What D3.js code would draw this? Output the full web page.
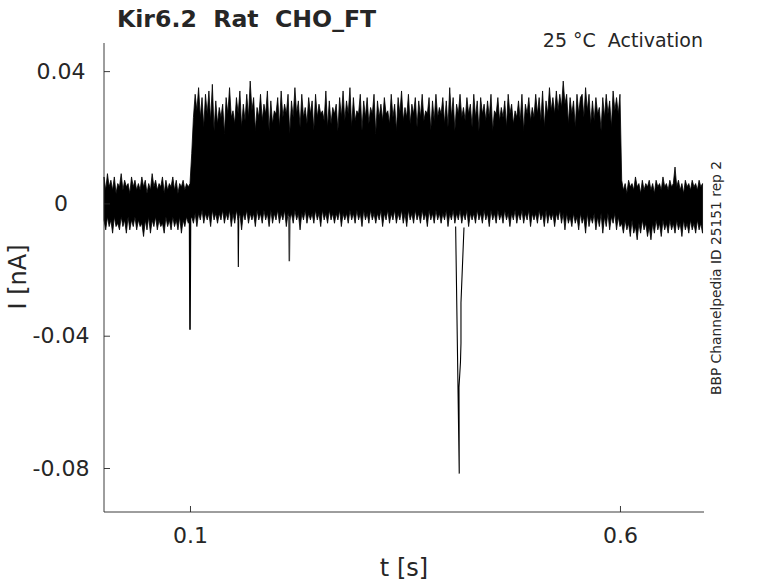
<!DOCTYPE html>
<html><head><meta charset="utf-8">
<script src="https://cdn.jsdelivr.net/npm/d3@7"></script>
<style>
body{margin:0;background:#fff;}
svg text{font-family:"DejaVu Sans",sans-serif;fill:#262626;}
</style></head>
<body><svg id="c" width="778" height="583"></svg>
<script>
// sample grid step (s) of the envelope
const dt = 0.002;
// upper envelope of all sweeps (pA), one value per 2 ms from t = 0
const upperPA = [
  // 0 - 0.098 s (holding)
  8,4,9,5,7,4,8,3,6,5, 9,4,7,5,6,3,8,5,7,4, 6,4,8,5,7,3,6,4,9,5,
  7,4,6,5,8,3,7,4,6,5, 8,4,7,3,6,5,7,4,6,5,
  // 0.1 s
  6,
  // 0.102 - 0.6 s (test pulse)
  15,26,33,28,35,26,32,23,33,27, 34,25,36,22,31,24,29,26,30,21,
  32,27,35,26,28,24,32,27,34,23, 30,25,33,26,37,28,32,22,29,26,
  33,25,30,27,34,22,31,24,28,27, 32,23,34,26,30,27,33,21,31,26,
  35,27,31,23,33,26,29,24,32,27, 31,22,33,26,30,27,28,25,34,23,
  31,24,29,27,30,22,32,26,34,25, 31,27,35,23,32,25,28,27,33,22,
  31,26,32,24,29,27,33,21,31,26, 30,25,32,27,28,24,33,26,30,22,
  32,27,34,25,29,26,33,24,30,27, 32,23,31,26,33,25,28,27,32,22,
  31,25,33,26,29,27,32,24,31,23, 35,26,32,22,30,27,33,26,29,25,
  32,27,30,23,33,26,31,22,32,27, 30,25,31,26,33,22,28,27,32,25,
  29,26,31,23,33,27,30,24,28,26, 31,25,33,22,30,27,32,25,29,26,
  33,27,32,25,34,23,31,27,35,28, 32,27,34,28,33,29,37,30,33,24,
  32,27,31,23,33,27,32,33,26,35, 28,33,24,31,25,32,27,29,22,32,
  26,33,27,31,23,34,28,32,27,33,
  // 0.602 - 0.696 s (after pulse)
  7,4,6,3,7,5,6,4,8,5, 6,3,7,4,6,5,7,4,6,3, 7,5,6,4,8,5,6,4,7,5,
  6,11,5,7,4,6,3,7,5,6, 4,7,5,6,4,7,5,6
];
// lower envelope of all sweeps (pA)
const lowerPA = [
  -5,-8,-4,-7,-5,-9,-4,-7,-6,-8, -4,-7,-5,-9,-4,-8,-5,-7,-4,-8, -5,-7,-6,-10,-5,-8,-4,-9,-5,-7,
  -4,-8,-5,-7,-6,-9,-4,-7,-5,-8, -4,-7,-5,-8,-4,-9,-5,-7,-4,-6,
  -5,
  -4,-6,-3,-7,-3,-5,-2,-6,-3,-5, -3,-7,-2,-5,-3,-6,-3,-5,-2,-6,
  -3,-5,-2,-7,-3,-6,-2,-5,-3,-8, -3,-5,-2,-6,-3,-5,-3,-7,-2,-5,
  -3,-6,-2,-5,-3,-7,-2,-6,-3,-5, -2,-6,-3,-5,-2,-7,-3,-5,-3,-6,
  -2,-5,-3,-8,-3,-5,-2,-6,-3,-5, -3,-6,-2,-5,-3,-7,-2,-5,-3,-6,
  -2,-5,-3,-6,-3,-5,-2,-7,-3,-5, -3,-6,-2,-5,-3,-6,-2,-5,-3,-7,
  -2,-5,-3,-6,-2,-5,-3,-6,-3,-5, -2,-7,-3,-5,-2,-6,-3,-5,-2,-6,
  -3,-5,-2,-6,-3,-7,-2,-5,-3,-6, -2,-5,-3,-6,-2,-5,-3,-7,-2,-5,
  -3,-6,-2,-5,-3,-6,-3,-5,-2,-7, -3,-5,-2,-6,-3,-5,-2,-6,-3,-5,
  -2,-7,-3,-5,-3,-6,-2,-5,-3,-6, -2,-5,-3,-7,-2,-5,-3,-6,-2,-5,
  -3,-6,-2,-5,-3,-7,-3,-5,-2,-6, -3,-5,-2,-6,-3,-5,-2,-7,-3,-5,
  -3,-6,-2,-5,-3,-7,-2,-6,-3,-5, -3,-7,-3,-5,-2,-6,-3,-8,-3,-6,
  -4,-7,-3,-6,-4,-8,-3,-6,-4,-9, -3,-7,-4,-6,-3,-8,-4,-7,-3,-9,
  -4,-7,-3,-8,-4,-6,-3,-8,-4,-7,
  -6,-9,-5,-8,-6,-10,-5,-9,-7,-11, -6,-9,-5,-8,-6,-10,-7,-11,-6,-9,
  -5,-8,-6,-10,-5,-8,-6,-9,-5,-8, -6,-9,-5,-8,-6,-10,-5,-8,-6,-9,
  -5,-8,-6,-9,-5,-8,-6,-9
];
// individual downward transients: [t (s), I (pA)]
const spikeOnset = [[0.0995, -4], [0.1000, -38.2], [0.1006, -4]];
const spikeB = [[0.1558, -4], [0.1562, -19.2], [0.1567, -4]];
const spikeC = [[0.2150, -4], [0.2155, -17.5], [0.2161, -4]];
const spikeD = [[0.4089, -7], [0.4131, -81.7], [0.4128, -55.6], [0.4145, -48],
                [0.4151, -42.3], [0.4151, -30], [0.4186, -7.3]];
const spikes = [spikeOnset, spikeB, spikeC, spikeD];

const xTicks = [0.1, 0.6];
const yTicks = [0.04, 0, -0.04, -0.08];
const xDomain = [0, 0.6977];
const yDomain = [-0.0933, 0.0485];

const titleText = "Kir6.2\u00a0\u00a0Rat\u00a0\u00a0CHO_FT";
const condText = "25 \u00b0C\u00a0\u00a0Activation";
const sideText = "BBP Channelpedia ID 25151 rep 2";

const svg = d3.select("#c");
const L = 104, R = 704, T = 43, B = 512;
const x = d3.scaleLinear().domain(xDomain).range([L, R]);
const y = d3.scaleLinear().domain(yDomain).range([B, T]);

const env = upperPA.map((u, i) => ({t: i * dt, hi: u / 1000, lo: lowerPA[i] / 1000}));

const area = d3.area().x(d => x(d.t)).y0(d => y(d.lo)).y1(d => y(d.hi));
svg.append("path").datum(env).attr("d", area)
  .attr("fill", "#000").attr("stroke", "#000").attr("stroke-width", 0.8)
  .attr("stroke-linejoin", "round");

const line = d3.line().x(d => x(d[0])).y(d => y(d[1] / 1000));
svg.selectAll("path.spike").data(spikes).join("path").attr("class", "spike")
  .attr("d", line).attr("fill", "none")
  .attr("stroke", (d, i) => i === 2 ? "#3a3a3a" : "#000")
  .attr("stroke-width", (d, i) => i === 0 ? 1.6 : (i === 2 ? 1.5 : 1.1));

// axes (MATLAB style: box off, ticks inward)
const axCol = "#262626";
const yAxis = d3.axisLeft(y).tickValues(yTicks).tickSize(-6).tickPadding(0)
  .tickFormat(d => String(+d.toFixed(2)));
const gy = svg.append("g").attr("transform", `translate(${L},0)`).call(yAxis);
gy.select(".domain").attr("d", `M0,${T}V${B}`).attr("stroke", axCol).attr("stroke-width", 0.9);
gy.selectAll(".tick line").attr("stroke", axCol).attr("stroke-width", 0.9);
gy.selectAll(".tick text").attr("x", -43).attr("text-anchor", "middle")
  .attr("font-size", 22).attr("fill", axCol).attr("font-family", "DejaVu Sans");

const xAxis = d3.axisBottom(x).tickValues(xTicks).tickSize(-6).tickPadding(0).tickFormat(d3.format(".1f"));
const gx = svg.append("g").attr("transform", `translate(0,${B})`).call(xAxis);
gx.select(".domain").attr("d", `M${L},0H${R}`).attr("stroke", axCol).attr("stroke-width", 0.9);
gx.selectAll(".tick line").attr("stroke", axCol).attr("stroke-width", 0.9);
gx.selectAll(".tick text").attr("y", 31).attr("dy", 0)
  .attr("font-size", 22).attr("fill", axCol).attr("font-family", "DejaVu Sans");

svg.append("text").attr("x", 404).attr("y", 576).attr("text-anchor", "middle")
  .attr("font-size", 24).text("t [s]");
svg.append("text").attr("transform", "translate(26,277) rotate(-90)").attr("text-anchor", "middle")
  .attr("font-size", 24).text("I [nA]");
svg.append("text").attr("x", 117).attr("y", 27).attr("font-size", 23.6).attr("font-weight", "bold")
  .attr("fill", "#000").text(titleText);
svg.append("text").attr("x", 703).attr("y", 47).attr("text-anchor", "end")
  .attr("font-size", 19).attr("fill", "#000").text(condText);
svg.append("text").attr("transform", "translate(721,278) rotate(-90)").attr("text-anchor", "middle")
  .attr("font-size", 13.8).attr("fill", "#000").text(sideText);
</script></body></html>
